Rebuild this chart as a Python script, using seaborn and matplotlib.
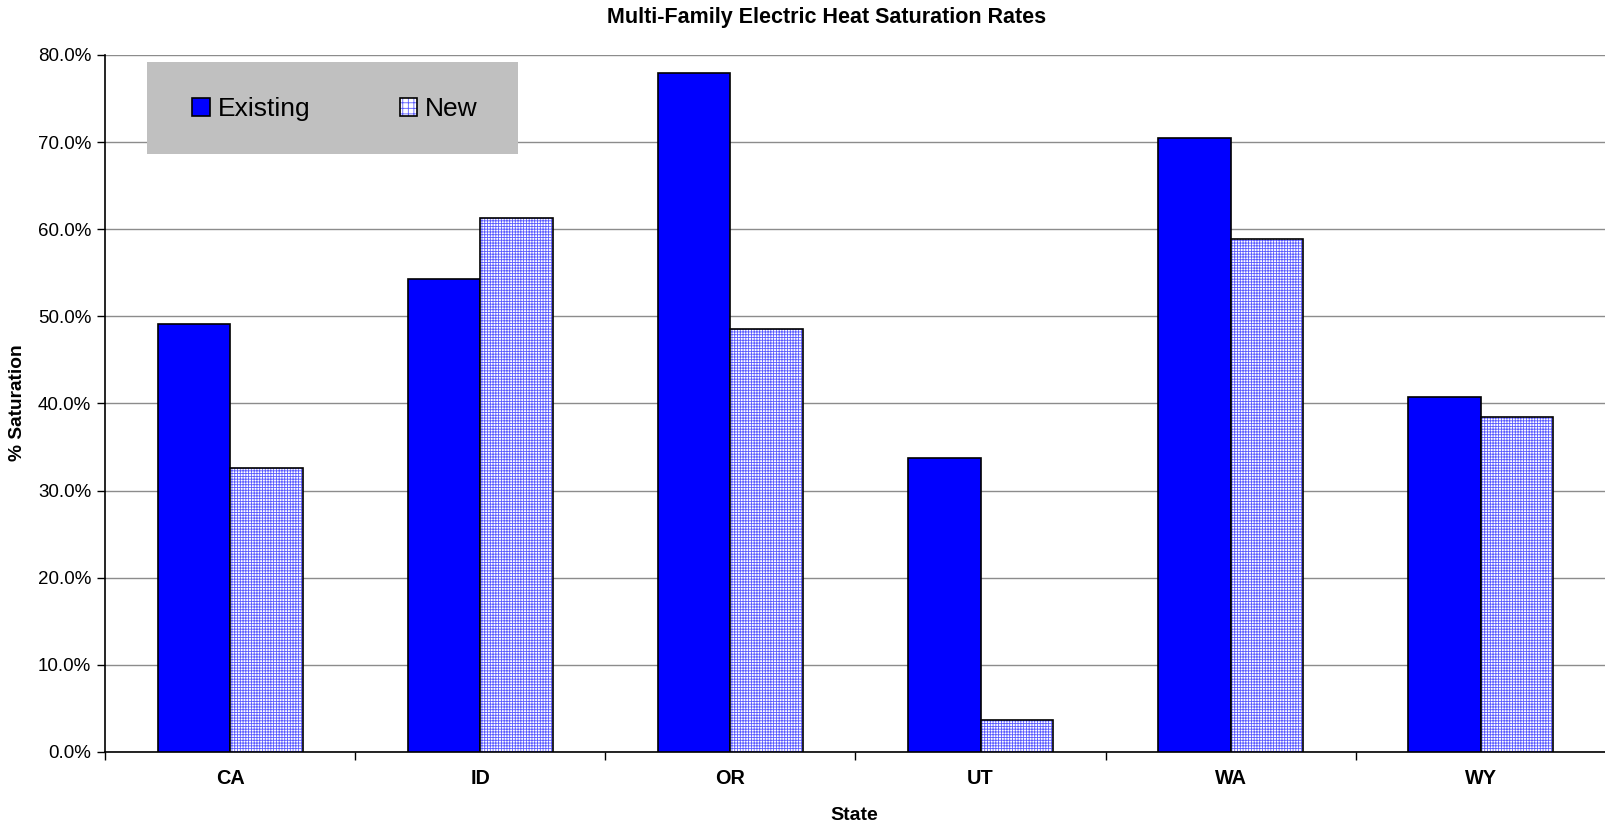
import pandas as pd
import matplotlib.pyplot as plt
import seaborn as sns
from matplotlib.patches import Patch, Rectangle
from matplotlib.legend_handler import HandlerTuple
from matplotlib.ticker import FuncFormatter, FixedLocator

# Values (% saturation)
states = ['CA', 'ID', 'OR', 'UT', 'WA', 'WY']
existing = [49.1, 54.3, 77.9, 33.8, 70.5, 40.7]
new = [32.6, 61.3, 48.5, 3.7, 58.9, 38.5]
series = ['Existing', 'New']
y_ticks = [0, 10, 20, 30, 40, 50, 60, 70, 80]

df = pd.DataFrame({
    'State': states * 2,
    'Saturation': existing + new,
    'Type': [series[0]] * len(states) + [series[1]] * len(states),
})

sns.set_style('white')
plt.rcParams['font.family'] = ['Liberation Sans', 'DejaVu Sans']
plt.rcParams['hatch.linewidth'] = 0.6
for key in ['text.color', 'axes.labelcolor', 'xtick.color', 'ytick.color']:
    plt.rcParams[key] = 'black'

blue = '#0000ff'
hatch_blue = '#5a5aff'

fig = plt.figure(figsize=(16.06, 8.26), dpi=100)
ax = fig.add_axes([105 / 1606, 74 / 826, 1 - 105 / 1606, (752 - 55) / 826])

sns.barplot(data=df, x='State', y='Saturation', hue='Type',
            palette={'Existing': blue, 'New': 'white'}, saturation=1,
            width=0.58, gap=0, edgecolor='black', linewidth=1.2,
            legend=False, ax=ax, zorder=3)

# hatched look for the "New" bars: blue grid, black outline on top
for p in ax.containers[1].patches:
    p.set_hatch('++++++')
    p.set_edgecolor(hatch_blue)
    p.set_linewidth(0)
    ax.add_patch(Rectangle(p.get_xy(), p.get_width(), p.get_height(),
                           fill=False, ec='black', lw=1.2, zorder=4))

ax.set_ylim(0, 80)
ax.set_xlim(-0.5, len(states) - 0.5)
ax.yaxis.set_major_locator(FixedLocator(y_ticks))
ax.yaxis.set_major_formatter(FuncFormatter(lambda v, pos: f'{v:.1f}%'))
ax.yaxis.grid(True, color='#8c8c8c', lw=1)
ax.set_axisbelow(True)

ax.tick_params(axis='y', direction='out', length=6, width=1, color='black',
               labelcolor='black', labelsize=13.5, pad=4, left=True)
ax.xaxis.set_minor_locator(FixedLocator([i - 0.5 for i in range(len(states) + 1)]))
ax.tick_params(axis='x', which='major', length=0, labelsize=14.3, pad=12,
               labelcolor='black')
ax.tick_params(axis='x', which='minor', direction='out', length=6, width=1,
               color='black', bottom=True)
for lbl in ax.get_xticklabels():
    lbl.set_fontweight('bold')

for side in ['top', 'right']:
    ax.spines[side].set_visible(False)
for side in ['left', 'bottom']:
    ax.spines[side].set_color('black')
    ax.spines[side].set_linewidth(1.2)

ax.set_xlabel('')
ax.set_ylabel('')
fig.text(854 / 1606, 1 - 816 / 826, 'State', ha='center', va='center',
         fontsize=14, fontweight='bold', color='black')
fig.text(18 / 1606, 1 - 403 / 826, '% Saturation', ha='center', va='center',
         rotation=90, fontsize=13.8, fontweight='bold', color='black')

fig.text(827 / 1606, 1 - 17 / 826, 'Multi-Family Electric Heat Saturation Rates',
         ha='center', va='center', fontsize=15.5, fontweight='bold', color='black')

# grey legend box
ax.add_patch(Rectangle((147 / 1606, 1 - 154 / 826), (518 - 147) / 1606, 92 / 826,
                       transform=fig.transFigure, fc='#c0c0c0', ec='none',
                       zorder=4.5, clip_on=False))

handles = [
    Patch(fc=blue, ec='black', lw=1.2),
    (Patch(fc='white', ec=hatch_blue, hatch='+++', lw=0),
     Patch(fill=False, ec='black', lw=1.2)),
]
leg = ax.legend(handles, series, handler_map={tuple: HandlerTuple(ndivide=1, pad=0)},
                ncol=2, fontsize=19, handlelength=0.65, handleheight=0.65,
                handletextpad=0.3, columnspacing=3.4, frameon=False,
                loc='center', bbox_to_anchor=(335 / 1606, 1 - 109 / 826),
                bbox_transform=fig.transFigure, labelcolor='black')
leg.set_zorder(6)

fig.savefig('out.png', dpi=100)
